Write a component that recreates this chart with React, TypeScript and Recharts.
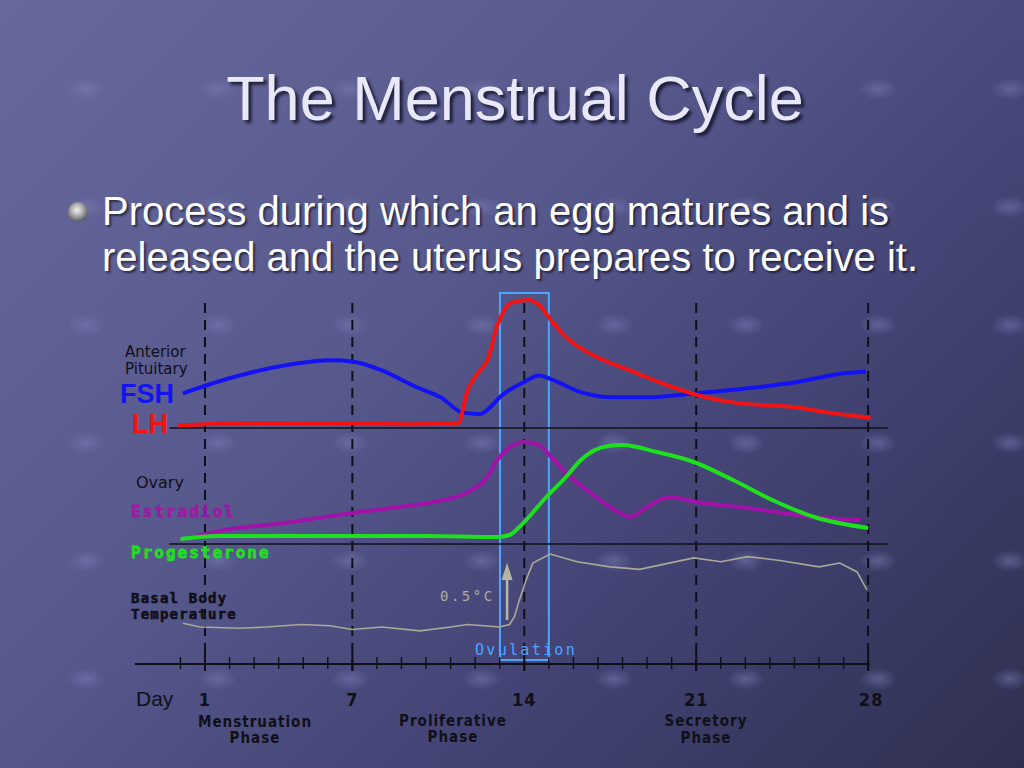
import React from 'react'
import {
  LineChart,
  Line,
  XAxis,
  YAxis,
  ReferenceLine,
  ReferenceArea,
  ReferenceDot,
} from 'recharts'

// cycle days, hormone levels in % of the LH peak
const fshDay = [0.1, 1, 2.8, 4.6, 6.1, 7, 8.2, 9.6, 10.6, 11.5, 12.2, 12.6, 13, 14, 14.6, 15.1, 16.3, 17.6, 19, 20.9, 23.1, 25.1, 27.1, 27.9]
const fshLevel = [27, 33, 43, 50, 53, 52, 45, 32, 24, 12, 11, 16, 24, 36, 41, 38, 28, 24, 24, 27, 31, 36, 43, 44]

const lhDay = [-0.1, 1, 4, 7, 9, 11.3, 11.7, 12.2, 12.5, 12.9, 13.5, 14.2, 14.6, 15.1, 15.7, 17, 18.3, 19.6, 21, 22.5, 25.1, 26.4, 28.1]
const lhLevel = [2, 3, 4, 4, 3, 4, 30, 45, 53, 80, 98, 100, 96, 84, 71, 55, 45, 35, 26, 20, 16, 12, 8]

// ovarian hormones, relative units
const estradiolDay = [0.7, 1.6, 4.2, 7, 8.9, 10.3, 11.7, 12.5, 12.9, 14, 14.6, 15.1, 15.7, 16.7, 17.9, 18.3, 19, 19.9, 21, 23.1, 25.8, 27.7]
const estradiolLevel = [8, 13, 21, 31, 37, 42, 52, 67, 84, 102, 99, 87, 71, 51, 31, 27, 37, 47, 42, 36, 27, 24]

const progesteroneDay = [0, 1.5, 4, 7, 10, 12.9, 13.4, 13.8, 14.9, 15.7, 16.3, 17.4, 18, 19.4, 20.9, 22.5, 24.1, 25.8, 28]
const progesteroneLevel = [5, 8, 8, 8, 8, 7, 9, 17, 47, 67, 84, 98, 99, 92, 82, 64, 44, 27, 16]

// basal body temperature, degrees C
const bbtDay = [0.1, 0.8, 2.4, 3.5, 4.9, 6.1, 7, 8.2, 9.75, 11, 11.7, 13, 13.4, 13.6, 13.8, 14.1, 14.35, 15.05, 16.15, 17.5, 18.7, 20.9, 22, 23.1, 24.4, 26, 26.85, 27.55, 27.95]
const bbtTemp = [36.43, 36.4, 36.39, 36.4, 36.42, 36.41, 36.38, 36.4, 36.37, 36.4, 36.42, 36.4, 36.42, 36.48, 36.61, 36.78, 36.9, 36.97, 36.91, 36.87, 36.85, 36.94, 36.91, 36.95, 36.92, 36.87, 36.9, 36.83, 36.69]

const tickDays = [0, 1, 2, 3, 4, 5, 6, 7, 8, 9, 10, 11, 12, 13, 14, 15, 16, 17, 18, 19, 20, 21, 22, 23, 24, 25, 26, 27, 28]
const labelDays = [1, 7, 14, 21, 28]

const toPoints = (days: number[], vals: number[]) => days.map((day, i) => ({ day, v: vals[i] }))

const fshData = toPoints(fshDay, fshLevel)
const lhData = toPoints(lhDay, lhLevel)
const estradiolData = toPoints(estradiolDay, estradiolLevel)
const progesteroneData = toPoints(progesteroneDay, progesteroneLevel)
const bbtData = toPoints(bbtDay, bbtTemp)

const ink = '#101018'
const mono = '"DejaVu Sans Mono", monospace'

const DayTick = (props: any) => {
  const { x, y, payload } = props
  const major = labelDays.includes(payload.value)
  return (
    <g>
      <line
        x1={x}
        x2={x}
        y1={y - (major ? 11 : 7)}
        y2={y + (major ? 7 : 5)}
        stroke={ink}
        strokeWidth={major ? 2 : 1.4}
      />
      {major && (
        <text
          x={x + (payload.value === 28 ? 3 : 0)}
          y={y + 42}
          textAnchor="middle"
          fill={ink}
          style={{
            fontFamily: '"DejaVu Sans Condensed", "DejaVu Sans", sans-serif',
            fontWeight: 700,
            fontSize: 18,
            letterSpacing: 1,
          }}
        >
          {payload.value}
        </text>
      )}
    </g>
  )
}

const ArrowHead = (props: any) => {
  const { cx, cy } = props
  return <path d={`M${cx},${cy} L${cx - 5.5},${cy + 17} L${cx + 5.5},${cy + 17} Z`} fill="#b8b5a4" />
}

export default function App() {
  return (
    <div
      style={{
        position: 'fixed',
        left: 0,
        top: 0,
        width: 1024,
        height: 768,
        overflow: 'hidden',
        background: 'linear-gradient(135deg, #68699b 0%, #57588c 40%, #414272 70%, #2f3050 100%)',
      }}
    >
      <div
        style={{
          position: 'absolute',
          inset: 0,
          backgroundImage:
            'radial-gradient(ellipse 19px 11px at 50% 50%, rgba(125,128,185,0.5), rgba(125,128,185,0) 100%)',
          backgroundSize: '132px 118px',
          backgroundPosition: '20px 30px',
        }}
      />
      <div
        style={{
          position: 'absolute',
          left: 0,
          width: 1030,
          top: 67,
          textAlign: 'center',
          fontFamily: '"Liberation Sans", Arial, sans-serif',
          fontSize: 63,
          lineHeight: '63px',
          color: '#e8e8f8',
          textShadow: '3px 3px 3px rgba(10,10,30,0.75)',
        }}
      >
        The Menstrual Cycle
      </div>
      <div
        style={{
          position: 'absolute',
          left: 68,
          top: 202,
          width: 20,
          height: 20,
          borderRadius: '50%',
          background: 'radial-gradient(circle at 45% 40%, #f4f4f4 0%, #b0b0b0 35%, #555 75%, #2a2a2a 100%)',
        }}
      />
      <div
        style={{
          position: 'absolute',
          left: 102,
          top: 188,
          fontFamily: '"Liberation Sans", Arial, sans-serif',
          fontSize: 40,
          lineHeight: '46px',
          color: '#ffffff',
          textShadow: '2px 2px 2px rgba(10,10,30,0.6)',
          whiteSpace: 'nowrap',
        }}
      >
        Process during which an egg matures and is
        <br />
        released and the uterus prepares to receive it.
      </div>

      <div style={{ position: 'absolute', left: 0, top: 0 }}>
        <LineChart width={1024} height={768} margin={{ top: 290, right: 131.3, bottom: 0, left: 131.3 }}>
          <XAxis
            type="number"
            dataKey="day"
            domain={[-2, 29]}
            allowDataOverflow
            ticks={tickDays}
            interval={0}
            tick={<DayTick />}
            tickLine={false}
            axisLine={false}
            tickSize={0}
            tickMargin={0}
            height={104}
          />
          <YAxis yAxisId="pit" type="number" hide domain={[-184.375, 107.8125]} allowDataOverflow />
          <YAxis yAxisId="ova" type="number" hide domain={[-120, 254]} allowDataOverflow />
          <YAxis yAxisId="bbt" type="number" hide domain={[36.1109, 39.0328]} allowDataOverflow />

          {labelDays.map((d) => (
            <ReferenceLine
              key={d}
              yAxisId="ova"
              segment={[
                { x: d, y: 241 },
                { x: d, y: -126 },
              ]}
              ifOverflow="visible"
              stroke={ink}
              strokeWidth={2}
              strokeDasharray="10 7"
            />
          ))}
          <ReferenceLine
            yAxisId="pit"
            segment={[
              { x: -0.45, y: 0 },
              { x: 28.8, y: 0 },
            ]}
            ifOverflow="visible"
            stroke={ink}
            strokeWidth={1.6}
          />
          <ReferenceLine
            yAxisId="ova"
            segment={[
              { x: -0.45, y: 0 },
              { x: 28.8, y: 0 },
            ]}
            ifOverflow="visible"
            stroke={ink}
            strokeWidth={1.6}
          />
          <ReferenceLine
            yAxisId="ova"
            segment={[
              { x: -1.85, y: -120 },
              { x: 28.05, y: -120 },
            ]}
            ifOverflow="visible"
            stroke={ink}
            strokeWidth={1.8}
          />
          <ReferenceArea
            yAxisId="ova"
            x1={13.01}
            x2={15.0}
            y1={-116}
            y2={251}
            ifOverflow="visible"
            fill="none"
            fillOpacity={0}
            stroke="#4ea4ff"
            strokeWidth={2}
          />
          <ReferenceLine
            yAxisId="bbt"
            segment={[
              { x: 13.3, y: 36.455 },
              { x: 13.3, y: 36.84 },
            ]}
            stroke="#b8b5a4"
            strokeWidth={2.5}
          />
          <ReferenceDot yAxisId="bbt" x={13.3} y={36.9} r={0} shape={<ArrowHead />} />

          <Line yAxisId="bbt" data={bbtData} dataKey="v" type="linear" stroke="#a9a899" strokeWidth={1.6} dot={false} isAnimationActive={false} />
          <Line yAxisId="ova" data={estradiolData} dataKey="v" type="monotone" stroke="#a012a8" strokeWidth={4} dot={false} isAnimationActive={false} />
          <Line yAxisId="ova" data={progesteroneData} dataKey="v" type="monotone" stroke="#1ee01e" strokeWidth={4} dot={false} isAnimationActive={false} />
          <Line yAxisId="pit" data={fshData} dataKey="v" type="monotone" stroke="#1212f2" strokeWidth={4} dot={false} isAnimationActive={false} />
          <Line yAxisId="pit" data={lhData} dataKey="v" type="monotone" stroke="#f21414" strokeWidth={4} dot={false} isAnimationActive={false} />
        </LineChart>
      </div>

      <svg width={1024} height={768} style={{ position: 'absolute', left: 0, top: 0, pointerEvents: 'none' }}>
        <g style={{ fontFamily: '"DejaVu Sans", sans-serif', fontSize: 15 }} fill={ink}>
          <text x={125} y={357}>Anterior</text>
          <text x={125} y={374}>Pituitary</text>
          <text x={136} y={488} style={{ fontSize: 16 }}>Ovary</text>
        </g>
        <g style={{ fontFamily: '"Liberation Sans", Arial, sans-serif', fontWeight: 700, fontSize: 27 }}>
          <text x={120} y={403} fill="#1414f0">FSH</text>
          <text x={132} y={433} fill="#f01414">LH</text>
        </g>
        <g style={{ fontFamily: mono, fontWeight: 700, fontSize: 16, letterSpacing: 2 }} strokeWidth={0.8}>
          <text x={131} y={517} fill="#9c1aa4" stroke="#9c1aa4">Estradiol</text>
          <text x={131} y={558} fill="#22dd22" stroke="#22dd22">Progesterone</text>
        </g>
        <g style={{ fontFamily: mono, fontWeight: 700, fontSize: 14, letterSpacing: 1.2 }} fill={ink} stroke={ink} strokeWidth={0.6}>
          <text x={131} y={603}>Basal Body</text>
          <text x={131} y={619}>Temperature</text>
        </g>
        <text x={440} y={601} fill="#aeaca2" style={{ fontFamily: mono, fontSize: 14, letterSpacing: 2.5 }}>
          0.5°C
        </text>
        <text x={475} y={655} fill="#4ea4ff" style={{ fontFamily: mono, fontSize: 15, letterSpacing: 2.3 }}>
          Ovulation
        </text>
        <text x={136} y={706} fill={ink} style={{ fontFamily: '"Liberation Sans", Arial, sans-serif', fontSize: 21 }}>
          Day
        </text>
        <g
          style={{
            fontFamily: '"DejaVu Sans Condensed", "DejaVu Sans", sans-serif',
            fontWeight: 700,
            fontSize: 15,
            letterSpacing: 1,
          }}
          fill={ink}
          textAnchor="middle"
        >
          <text x={255} y={727}>Menstruation</text>
          <text x={255} y={743}>Phase</text>
          <text x={453} y={726}>Proliferative</text>
          <text x={453} y={742}>Phase</text>
          <text x={706} y={726}>Secretory</text>
          <text x={706} y={743}>Phase</text>
        </g>
      </svg>
    </div>
  )
}
